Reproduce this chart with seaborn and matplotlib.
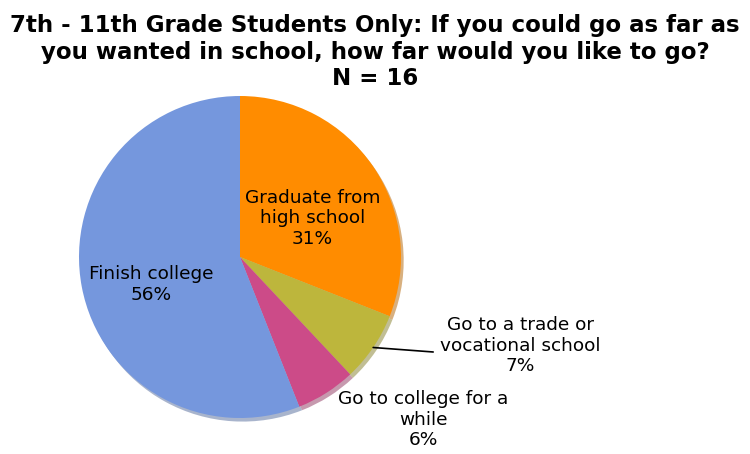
import numpy as np
import matplotlib
matplotlib.use("Agg")
import matplotlib.pyplot as plt
import seaborn as sns

sns.set_theme(style="white")
plt.rcParams["font.family"] = ["DejaVu Sans"]
plt.rcParams["text.color"] = "black"

categories = ["Graduate from\nhigh school", "Go to a trade or\nvocational school",
              "Go to college for a\nwhile", "Finish college"]
values = [31, 7, 6, 56]
colors = ["#FF8C00", "#BDB63C", "#CC4B88", "#7597DD"]

# label placement in pie units (radius = 1)
label_pos = [(0.45, 0.24), (1.74, -0.55), (1.14, -1.01), (-0.55, -0.17)]
leader = [False, True, False, False]

W, H = 750, 454
cx, cy, R = 240, 257, 161

fig = plt.figure(figsize=(W / 100, H / 100), dpi=100)
ax = fig.add_axes([0, 0, 1, 1])

wedges, _ = ax.pie(values, colors=colors, startangle=90, counterclock=False,
                   radius=1, center=(0, 0), frame=True,
                   shadow={"ox": 0.012, "oy": -0.016, "shade": 0.3},
                   wedgeprops=dict(linewidth=0))
ax.set_xlim(-cx / R, (W - cx) / R)
ax.set_ylim(-(H - cy) / R, cy / R)
ax.set_aspect("equal")
ax.axis("off")

for w, cat, v, (lx, ly), ld in zip(wedges, categories, values, label_pos, leader):
    ax.text(lx, ly, f"{cat}\n{v}%", ha="center", va="center", fontsize=13.3,
            color="black", linespacing=1.2)
    if ld:
        ang = np.deg2rad((w.theta1 + w.theta2) / 2)
        ex, ey = np.cos(ang), np.sin(ang)
        ax.plot([ex, 1.20], [ey, -0.59], color="black", lw=1.2)

fig.text(0.5, 1 - 14 / H,
         "7th - 11th Grade Students Only: If you could go as far as\n"
         "you wanted in school, how far would you like to go?\nN = 16",
         ha="center", va="top", fontsize=16.5, fontweight="bold",
         color="black", linespacing=1.2)

fig.savefig("out.png", dpi=100)
